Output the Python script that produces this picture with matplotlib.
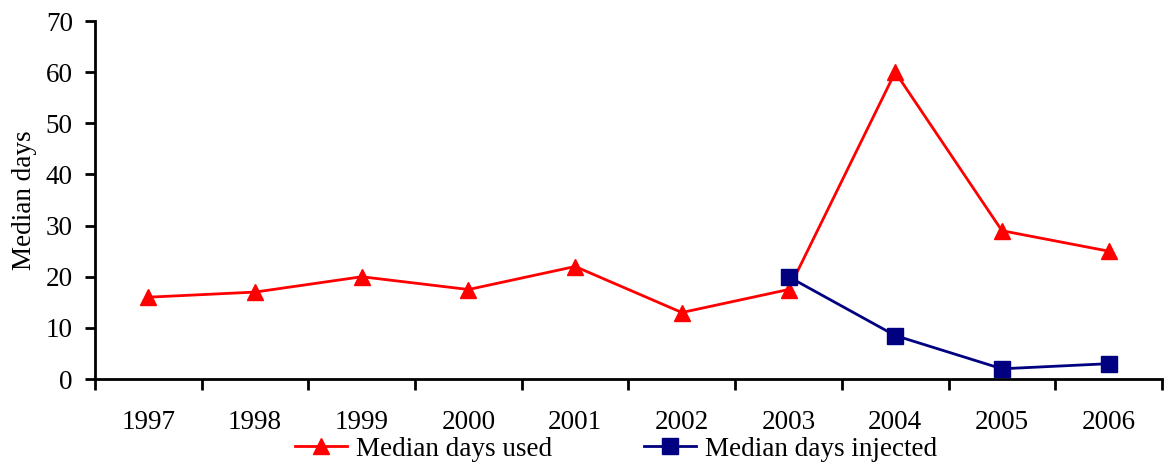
import matplotlib
matplotlib.use("Agg")
import matplotlib.pyplot as plt
import numpy as np

years = ["1997", "1998", "1999", "2000", "2001", "2002", "2003", "2004", "2005", "2006"]
days_used = [16, 17, 20, 17.5, 22, 13, 17.5, 60, 29, 25]
injected_years = ["2003", "2004", "2005", "2006"]
days_injected = [20, 8.5, 2, 3]
y_ticks = [0, 10, 20, 30, 40, 50, 60, 70]

plt.rcParams["font.family"] = ["Liberation Serif", "DejaVu Serif"]
FS = 19.5

fig = plt.figure(figsize=(11.67, 4.67), dpi=100)
ax = fig.add_axes([0.0814, 0.1884, 0.9143, 0.7666])

x_used = np.arange(len(years))
x_inj = np.array([years.index(y) for y in injected_years])

ax.plot(x_used, days_used, color="#FF0000", lw=2.0, marker="^", ms=12,
        mec="#FF0000", mfc="#FF0000", label="Median days used", zorder=3)
ax.plot(x_inj, days_injected, color="#000080", lw=2.0, marker="s", ms=11,
        mec="#000080", mfc="#000080", label="Median days injected", zorder=4)

ax.set_xlim(-0.5, len(years) - 0.5)
ax.set_ylim(0, 70)
ax.set_yticks(y_ticks)
ax.set_yticklabels([str(v) for v in y_ticks], fontsize=FS)

# category labels centred, tick marks on the category boundaries
ax.set_xticks(np.arange(-0.5, len(years)), minor=False)
ax.set_xticklabels([])
ax.set_xticks(x_used, minor=True)
ax.set_xticklabels(years, minor=True, fontsize=FS)
ax.tick_params(axis="x", which="major", direction="out", length=8, width=2, color="black")
ax.tick_params(axis="x", which="minor", length=0, pad=22)
ax.tick_params(axis="y", direction="out", length=7, width=2, pad=9, color="black")

for s in ["top", "right"]:
    ax.spines[s].set_visible(False)
for s in ["left", "bottom"]:
    ax.spines[s].set_linewidth(2)
    ax.spines[s].set_color("black")

ax.set_ylabel("Median days", fontsize=FS, labelpad=6)

fig.legend(loc="center", bbox_to_anchor=(0.528, 0.038), ncol=2, frameon=False,
           fontsize=FS, handlelength=1.9, handletextpad=0.35, columnspacing=3.4)

fig.savefig("out.png", dpi=100)
